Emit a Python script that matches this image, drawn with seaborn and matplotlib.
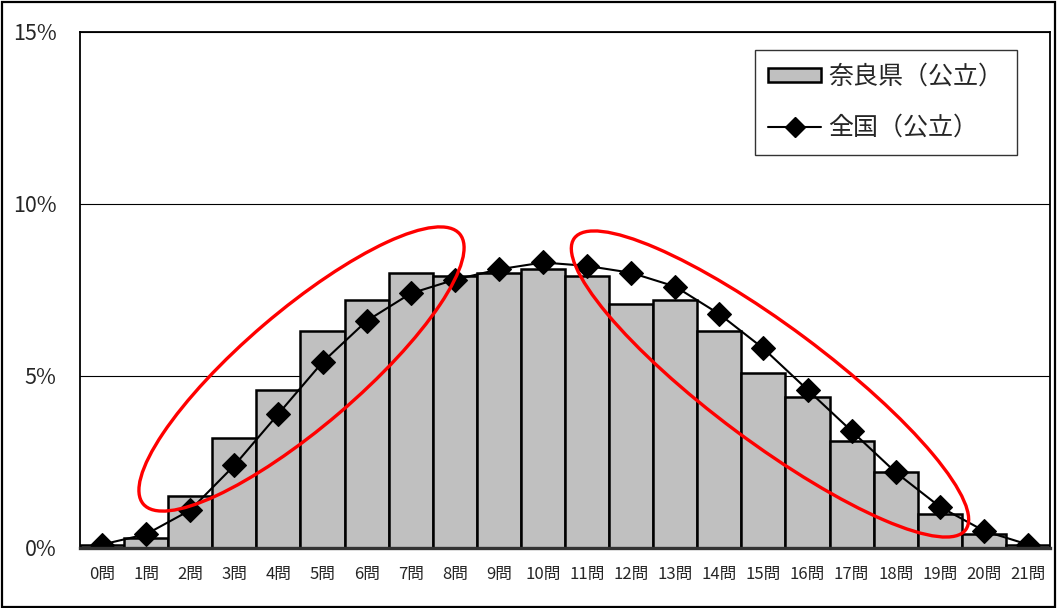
import matplotlib
matplotlib.use("Agg")
import matplotlib.pyplot as plt
import seaborn as sns
import pandas as pd
from matplotlib.patches import Ellipse, Patch, Rectangle
from matplotlib.lines import Line2D
from matplotlib.transforms import Affine2D

# Share of students by number of correct answers (%)
questions = ["0問", "1問", "2問", "3問", "4問", "5問", "6問", "7問", "8問", "9問", "10問",
             "11問", "12問", "13問", "14問", "15問", "16問", "17問", "18問", "19問", "20問", "21問"]
nara = [0.1, 0.3, 1.5, 3.2, 4.6, 6.3, 7.2, 8.0, 7.9, 8.0, 8.1,
        7.9, 7.1, 7.2, 6.3, 5.1, 4.4, 3.1, 2.2, 1.0, 0.4, 0.1]
national = [0.1, 0.4, 1.1, 2.4, 3.9, 5.4, 6.6, 7.4, 7.8, 8.1, 8.3,
            8.2, 8.0, 7.6, 6.8, 5.8, 4.6, 3.4, 2.2, 1.2, 0.5, 0.1]
y_ticks = [0, 5, 10, 15]
y_tick_labels = ["0%", "5%", "10%", "15%"]
legend_labels = ["奈良県（公立）", "全国（公立）"]

sns.set_theme(style="white")
plt.rcParams["font.family"] = ["Noto Sans CJK JP", "DejaVu Sans"]

df = pd.DataFrame({"q": questions, "nara": nara, "national": national})

fig = plt.figure(figsize=(10.58, 6.08), dpi=100)
ax = fig.add_axes([80 / 1058, 1 - 548 / 608, 970 / 1058, 516 / 608])

sns.barplot(data=df, x="q", y="nara", color="#c0c0c0", width=1.0,
            edgecolor="black", linewidth=1.8, saturation=1, ax=ax, zorder=2)
for p in ax.patches:
    p.set_facecolor("#c0c0c0")

sns.pointplot(data=df, x="q", y="national", color="black", markers="D",
              markersize=12.5, linewidth=1.5, ax=ax, zorder=4)
for ln in ax.lines:
    ln.set_markeredgewidth(0.8)
    ln.set_zorder(4)

ax.set_xlim(-0.5, len(questions) - 0.5)
ax.set_ylim(0, 15)
ax.set_yticks(y_ticks)
ax.set_yticklabels(y_tick_labels, fontsize=15.5)
ax.tick_params(axis="y", length=0, pad=17)
ax.tick_params(axis="x", length=0, pad=13, labelsize=12)
ax.set_xlabel("")
ax.set_ylabel("")
ax.yaxis.grid(True, color="black", linewidth=0.8)
ax.set_axisbelow(True)
for side in ["left", "top", "right"]:
    ax.spines[side].set_color("black")
    ax.spines[side].set_linewidth(1.3)
ax.spines["bottom"].set_color("#333333")
ax.spines["bottom"].set_linewidth(2.4)
ax.spines["bottom"].set_zorder(5)

# Red ellipses marking the rising and falling sections, sized in screen pixels
ax_w = ax.get_position().width * fig.get_figwidth() * fig.dpi
ax_h = ax.get_position().height * fig.get_figheight() * fig.dpi
px = Affine2D().scale(1 / ax_w, 1 / ax_h) + ax.transAxes
for cx, cy, a, b, ang in [(221.5, 179, 208, 58, 40.5), (690, 164, 244, 58, -36.7)]:
    ax.add_patch(Ellipse((cx, cy), 2 * a, 2 * b, angle=ang, transform=px,
                         fill=False, edgecolor="#ff0000", linewidth=2.4, zorder=6,
                         clip_on=False))

handles = [Patch(facecolor="#c0c0c0", edgecolor="black", linewidth=1.8),
           Line2D([0], [0], color="black", linewidth=1.5, marker="D",
                  markersize=10)]
leg = ax.legend(handles, legend_labels, loc="upper right",
                bbox_to_anchor=(937 / 970, 1 - 18 / 516), fontsize=18,
                frameon=True, fancybox=False, edgecolor="black",
                handlelength=2.1, handleheight=0.5, handletextpad=0.3,
                labelspacing=1.0, borderpad=0.55, borderaxespad=0)
leg.get_frame().set_linewidth(1.0)
leg.set_zorder(7)

fig.patches.append(Rectangle((0.002, 0.002), 0.995, 0.995, transform=fig.transFigure,
                             fill=False, edgecolor="black", linewidth=1.6))

fig.savefig("out.png", dpi=100)
